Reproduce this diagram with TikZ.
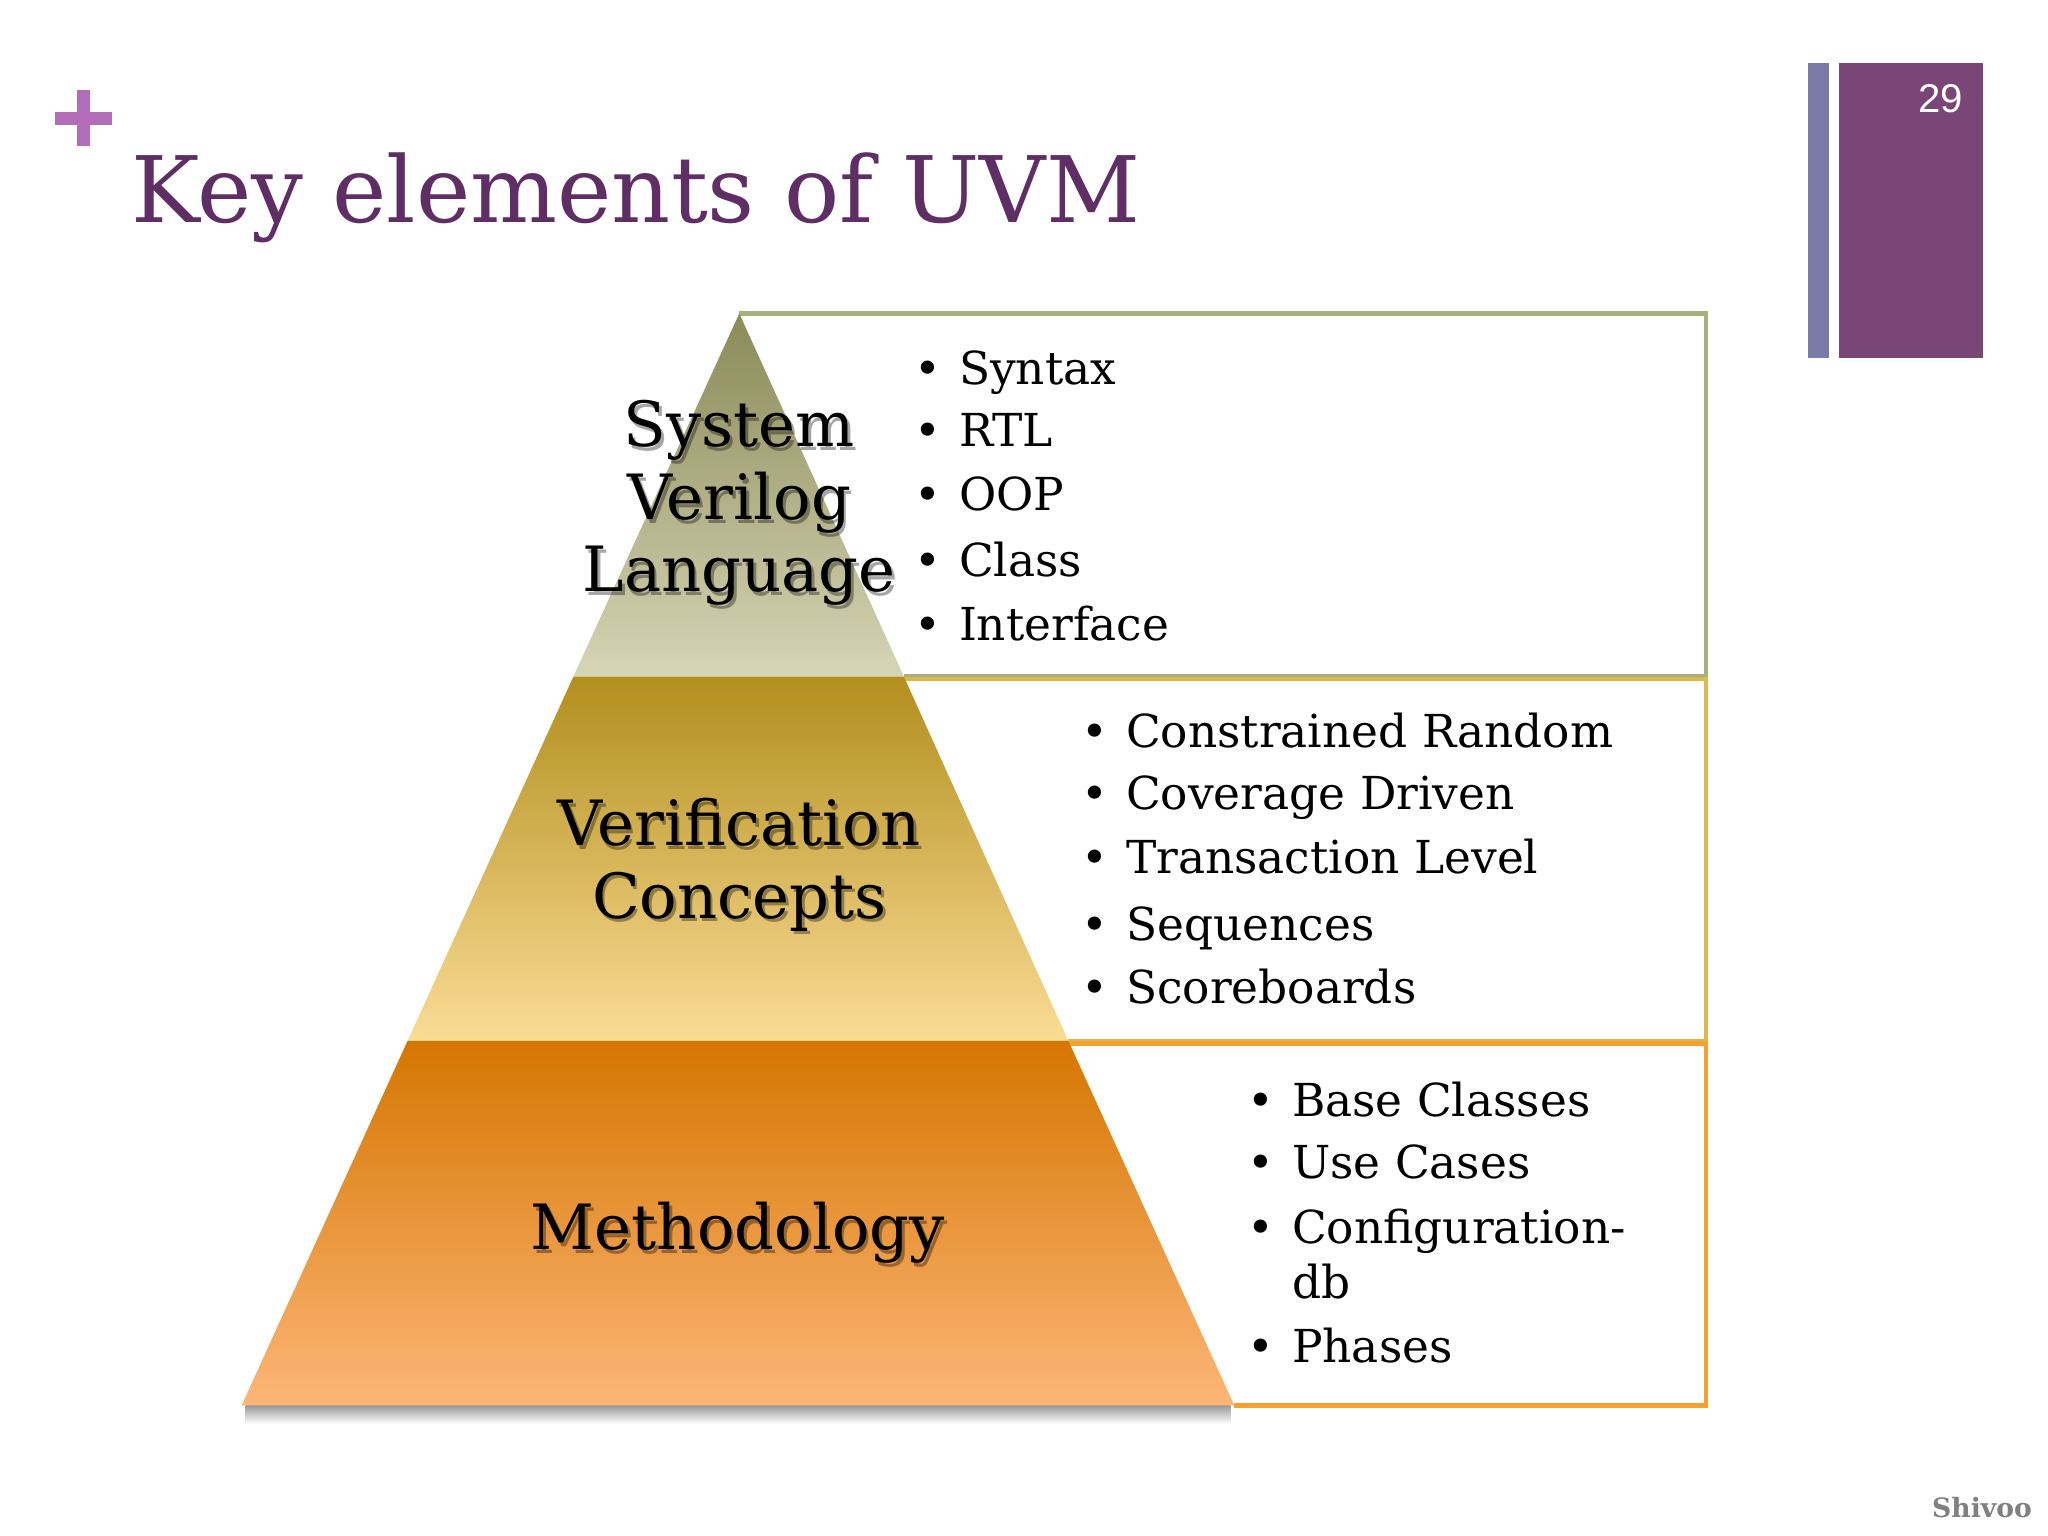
\documentclass[tikz,border=0pt]{standalone}
\usepackage{fontspec}
\setmainfont{DejaVu Serif}
\newfontfamily\numfont{Liberation Sans}

\definecolor{plusc}{HTML}{B36CB8}
\definecolor{titlec}{HTML}{5F2E64}
\definecolor{barblue}{HTML}{7B7BA8}
\definecolor{barpurple}{HTML}{7A4677}
\definecolor{oliveline}{HTML}{A9B07F}
\definecolor{goldline}{HTML}{DDB94C}
\definecolor{orangeline}{HTML}{F5A030}

\begin{document}
\begin{tikzpicture}[
    x=0.02cm, y=-0.02cm,
    tier/.style={align=center, inner sep=0pt, font=\fontsize{27.2}{31.5}\selectfont},
    tiershadow/.style={tier, text=black, opacity=0.35},
    item/.style={anchor=base west, inner sep=0pt, font=\fontsize{19.8}{23.8}\selectfont,
        execute at begin node={\makebox[19.3pt][l]{\textbullet}}},
    cont/.style={anchor=base west, inner sep=0pt, font=\fontsize{19.8}{23.8}\selectfont,
        execute at begin node={\hspace*{19.3pt}}},
    box/.style={line width=2pt}
]
% Page
\fill[white] (0,0) rectangle (1568,1176);
\useasboundingbox (0,0) rectangle (1568,1176);
% Title
\fill[plusc] (42,86) rectangle (86,96);
\fill[plusc] (59,69) rectangle (69,112);
\node[anchor=base west, inner sep=0pt, text=titlec, font=\fontsize{40}{48}\selectfont]
    (title) at (100,170) {Key elements of UVM};
% Side bars with page number
\fill[barblue]   (1384,48) rectangle (1400,274);
\fill[barpurple] (1408,48) rectangle (1518,274);
\node[anchor=base east, inner sep=0pt, text=white, font=\numfont\fontsize{17.5}{20}\selectfont]
    (page) at (1503,86) {29};
% Pyramid corners
\coordinate (apex) at (566,240);
\coordinate (t1l)  at (439,518);
\coordinate (t1r)  at (692,518);
\coordinate (t2l)  at (312,797);
\coordinate (t2r)  at (818,797);
\coordinate (t3l)  at (185,1076);
\coordinate (t3r)  at (945,1076);
% Boxes behind the pyramid
\draw[box, oliveline]  (apex) -- (1306,240) -- (1306,518) -- (t1r);
\draw[box, goldline]   (t1r) ++(0,2) -- (1306,520) -- (1306,797) -- (t2r);
\draw[box, orangeline] (t2r) ++(0,2) -- (1306,799) -- (1306,1076) -- (t3r);
% Shadow under the base
\shade[top color=black!40, bottom color=white] (188,1076) rectangle (942,1090);
% Tiers
\shade[top color={rgb,255:red,139;green,138;blue,88}, bottom color={rgb,255:red,214;green,213;blue,181}]
    (apex) -- (t1r) -- (t1l) -- cycle;
\shade[top color={rgb,255:red,179;green,143;blue,30}, bottom color={rgb,255:red,250;green,220;blue,149}]
    (t1l) -- (t1r) -- (t2r) -- (t2l) -- cycle;
\shade[top color={rgb,255:red,213;green,118;blue,0}, bottom color={rgb,255:red,253;green,182;blue,119}]
    (t2l) -- (t2r) -- (t3r) -- (t3l) -- cycle;
% Tier labels
\node[tiershadow] at (568,388) {System\\Verilog\\Language};
\node[tier] (svl) at (566,385) {System\\Verilog\\Language};
\node[tiershadow] at (568,665) {Verification\\Concepts};
\node[tier] (vc) at (566,662) {Verification\\Concepts};
\node[tiershadow, anchor=base] at (567,960) {Methodology};
\node[tier, anchor=base] (meth) at (565,957) {Methodology};
% Bullet lists
\foreach \y/\t [count=\i] in {294/Syntax, 342/RTL, 391/OOP, 441/Class, 490/Interface}
    \node[item] (sv\i) at (700,\y) {\t};
\foreach \y/\t [count=\i] in {572/Constrained Random, 620/Coverage Driven,
        669/Transaction Level, 720/Sequences, 768/Scoreboards}
    \node[item] (vc\i) at (828,\y) {\t};
\foreach \y/\t [count=\i] in {855/Base Classes, 902/Use Cases, 952/Configuration-, 1043/Phases}
    \node[item] (me\i) at (955,\y) {\t};
\node[cont] (me3b) at (955,994) {db};
% Footer
\node[anchor=base east, inner sep=0pt, text=black!50, font=\bfseries\fontsize{11.6}{14}\selectfont]
    (credit) at (1556,1162) {Shivoo};
\end{tikzpicture}
\end{document}
